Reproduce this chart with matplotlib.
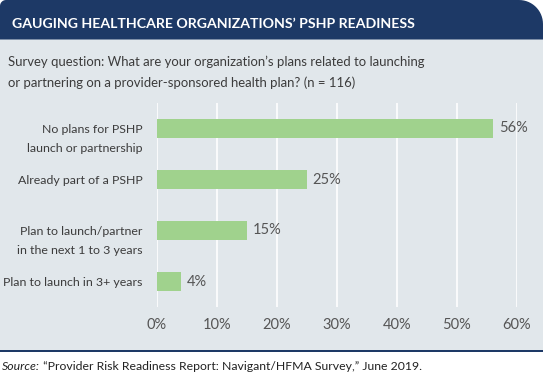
import matplotlib
matplotlib.use('Agg')
import matplotlib.pyplot as plt
from matplotlib.patches import Rectangle, PathPatch
from matplotlib.path import Path
import numpy as np

categories = ['No plans for PSHP\nlaunch or partnership',
              'Already part of a PSHP',
              'Plan to launch/partner\nin the next 1 to 3 years',
              'Plan to launch in 3+ years']
values = [56, 25, 15, 4]
xticks = [0, 10, 20, 30, 40, 50, 60]

title = "GAUGING HEALTHCARE ORGANIZATIONS\u2019 PSHP READINESS"
subtitle = ["Survey question: What are your organization\u2019s plans related to launching",
            "or partnering on a provider-sponsored health plan? (n = 116)"]
source_rest = " \u201cProvider Risk Readiness Report: Navigant/HFMA Survey,\u201d June 2019."

navy = '#1d3966'
panel = '#e1e7eb'
green = '#a0d28d'
text_col = '#3c3c3c'

plt.rcParams['font.family'] = ['Lato', 'DejaVu Sans']

W, H = 543, 377
fig = plt.figure(figsize=(W / 100, H / 100), dpi=100)
fig.patch.set_facecolor('white')
renderer = fig.canvas.get_renderer()


def fit_width(txt, target_px):
    # shrink/grow font so the text spans roughly target_px pixels
    w = txt.get_window_extent(renderer).width
    txt.set_fontsize(txt.get_fontsize() * target_px / w)


# background layer in pixel coordinates
bg = fig.add_axes([0, 0, 1, 1])
bg.set_xlim(0, W)
bg.set_ylim(H, 0)
bg.axis('off')

bg.add_patch(Rectangle((0, 39), W, 311, facecolor=panel, edgecolor='none'))
bg.add_patch(Rectangle((0, 349.5), W, 2.2, facecolor=navy, edgecolor='none'))

# header band: small radius top-left, large radius top-right
r1, r2, hb = 6, 24, 39.5
verts = [(0, hb), (0, r1)]
t = np.linspace(np.pi, 1.5 * np.pi, 10)
verts += [(r1 + r1 * np.cos(a), r1 + r1 * np.sin(a)) for a in t]
t = np.linspace(1.5 * np.pi, 2 * np.pi, 16)
verts += [(W - r2 + r2 * np.cos(a), r2 + r2 * np.sin(a)) for a in t]
verts += [(W, hb), (0, hb)]
bg.add_patch(PathPatch(Path(verts, closed=True), facecolor=navy, edgecolor='none'))

t_title = bg.text(12, 28, title, color='white', fontsize=10.5, fontweight='bold',
                  va='baseline', ha='left')
fit_width(t_title, 403)

sub1 = bg.text(8, 66.5, subtitle[0], color=text_col, fontsize=10.5,
               va='baseline', ha='left')
fit_width(sub1, 420)
bg.text(8, 87, subtitle[1], color=text_col, fontsize=sub1.get_fontsize(),
        va='baseline', ha='left')

src1 = bg.text(2, 370, 'Source:', color='#222222', fontsize=9.5, style='italic',
               va='baseline', ha='left')
src2 = bg.text(40, 370, source_rest, color='#222222', fontsize=9.5,
               va='baseline', ha='left')
w_all = src1.get_window_extent(renderer).width + src2.get_window_extent(renderer).width
scale = 421 / w_all
src1.set_fontsize(9.5 * scale)
src2.set_fontsize(9.5 * scale)
src2.set_x(2 + src1.get_window_extent(renderer).width)

# bar chart
ax = fig.add_axes([156.7 / W, 1 - 307 / H, 360 / W, 204 / H])
ax.set_facecolor('none')
y = np.arange(len(categories))
ax.barh(y, values, height=0.36, color=green, zorder=3)
for i, v in enumerate(values):
    ax.text(v + 1.0, i, f'{v}%', va='center', ha='left', color='#555555',
            fontsize=10.5)

ax.set_xlim(0, 60)
ax.set_ylim(3.5, -0.5)
ax.set_xticks(xticks)
ax.set_xticklabels([f'{v}%' for v in xticks], color='#555555', fontsize=10.5)
ax.tick_params(axis='x', length=0, pad=8)
ax.set_yticks([])
ax.grid(True, axis='x', color='white', linewidth=1.2, zorder=0)
for s in ax.spines.values():
    s.set_visible(False)

# category labels, one text per line; first line sits on the bar
labels = []
for i, c in enumerate(categories):
    for k, line in enumerate(c.split('\n')):
        labels.append(ax.text(-2.4, i + 0.09 + k * 0.37, line, ha='right',
                              va='baseline', color=text_col, fontsize=10.5))
w_ref = labels[-1].get_window_extent(renderer).width
for lab in labels:
    lab.set_fontsize(10.5 * 141 / w_ref)

fig.savefig('out.png', dpi=100, facecolor='white')
